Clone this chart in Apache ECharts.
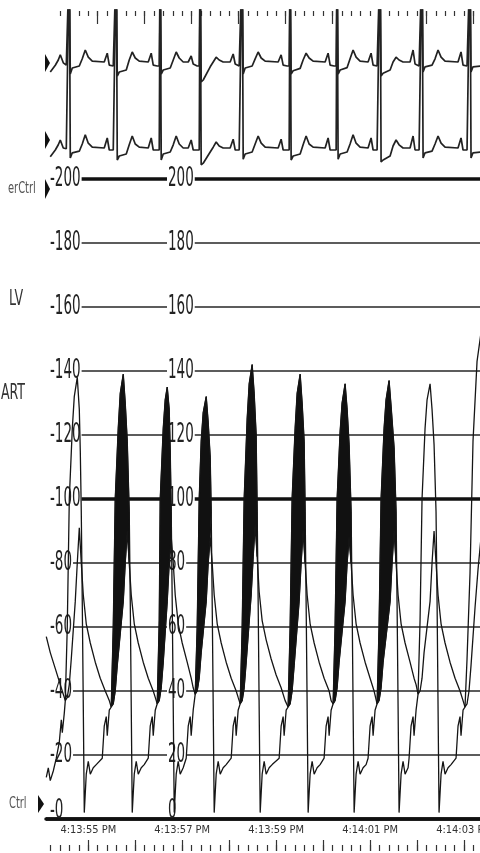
<!DOCTYPE html>
<html><head><meta charset="utf-8">
<script src="https://cdn.jsdelivr.net/npm/echarts@6/dist/echarts.min.js"></script>
<style>html,body{margin:0;padding:0;background:#fff}#c{width:480px;height:853px}</style>
</head><body><div id="c"></div>
<script>
const FONT = "'DejaVu Sans Condensed','Liberation Sans Narrow','Liberation Sans',sans-serif";

// time axis (seconds after 4:13:55 PM)
const timeLabelValues = [0, 2, 4, 6, 8];
const timeLabels = ['4:13:55 PM', '4:13:57 PM', '4:13:59 PM', '4:14:01 PM', '4:14:03 PM'];
// pressure scale (mmHg)
const pressureTicks = [0, 20, 40, 60, 80, 100, 120, 140, 160, 180, 200];

// LV pressure [s, mmHg]
const lvPressure = [
[-0.894,13],[-0.851,16],[-0.809,12],[-0.745,15],[-0.681,19],[-0.617,24],[-0.574,31],[-0.553,27],[-0.511,33],
[-0.489,37],[-0.447,60],[-0.404,100],[-0.340,122],[-0.298,132],[-0.234,138],[-0.191,128],[-0.170,115],[-0.149,96],[-0.128,68],[-0.106,35],[-0.085,2],
[-0.043,14],[0,18],[0.043,14],[0.106,16],[0.170,17],[0.298,19],[0.340,29],[0.383,32],[0.404,26],[0.447,34],
[0.489,35],[0.532,60],[0.574,100],[0.638,122],[0.681,133],[0.745,139],[0.787,130],[0.830,118],[0.872,96],[0.894,68],[0.915,35],[0.936,2],
[0.979,14],[1.021,18],[1.064,14],[1.128,16],[1.191,17],[1.277,19],[1.319,29],[1.362,32],[1.383,26],[1.426,34],
[1.468,36],[1.511,62],[1.532,100],[1.596,122],[1.638,131],[1.681,135],[1.723,128],[1.745,115],[1.766,96],[1.787,68],[1.809,35],[1.830,2],
[1.872,14],[1.915,18],[1.957,14],[2.021,16],[2.085,19],[2.128,29],[2.170,32],[2.191,26],[2.234,34],
[2.277,39],[2.319,60],[2.362,100],[2.404,118],[2.447,127],[2.511,132],[2.553,124],[2.596,113],[2.617,96],[2.638,68],[2.660,35],[2.681,2],
[2.723,14],[2.766,18],[2.809,14],[2.872,16],[2.936,17],[3.043,19],[3.085,29],[3.128,32],[3.149,26],[3.191,34],
[3.234,36],[3.277,60],[3.319,100],[3.383,125],[3.426,136],[3.489,142],[3.532,133],[3.574,120],[3.596,96],[3.617,68],[3.638,35],[3.660,2],
[3.702,14],[3.745,18],[3.787,14],[3.851,16],[3.915,17],[4.064,19],[4.106,29],[4.149,32],[4.170,26],[4.213,34],
[4.255,35],[4.298,60],[4.340,100],[4.404,122],[4.447,133],[4.511,139],[4.553,130],[4.596,118],[4.617,96],[4.638,68],[4.660,35],[4.681,2],
[4.723,14],[4.766,18],[4.809,14],[4.872,16],[4.936,17],[5.021,19],[5.064,29],[5.106,32],[5.128,26],[5.170,34],
[5.213,36],[5.255,60],[5.298,100],[5.362,121],[5.404,130],[5.468,136],[5.511,128],[5.553,117],[5.596,96],[5.617,68],[5.638,35],[5.660,2],
[5.702,14],[5.745,18],[5.787,14],[5.851,16],[5.915,17],[5.957,19],[6.000,29],[6.043,32],[6.064,26],[6.106,34],
[6.149,36],[6.191,60],[6.234,100],[6.298,122],[6.340,131],[6.404,137],[6.447,129],[6.511,116],[6.553,96],[6.574,68],[6.596,35],[6.617,2],
[6.660,14],[6.702,18],[6.745,14],[6.809,16],[6.830,19],[6.872,29],[6.915,32],[6.936,26],[6.979,34],
[7.021,39],[7.064,62],[7.106,100],[7.170,122],[7.213,131],[7.277,136],[7.319,128],[7.362,117],[7.404,96],[7.426,68],[7.447,35],[7.468,2],
[7.511,14],[7.553,18],[7.596,14],[7.660,16],[7.723,17],[7.830,19],[7.872,29],[7.915,32],[7.936,26],[7.979,34],
[8.021,35],[8.064,50],[8.128,77],[8.191,118],[8.277,143],[8.362,152]
];

// Arterial pressure [s, mmHg]
const artPressure = [
[-0.894,57],[-0.809,52],[-0.702,47],[-0.596,42],[-0.532,39],
[-0.489,37],[-0.447,38],[-0.404,42],[-0.362,50],[-0.277,68],[-0.234,80],[-0.191,91],[-0.149,80],[-0.106,70],[-0.043,61],[0.043,55],[0.149,49],[0.255,44],[0.362,40],[0.447,37],
[0.489,35],[0.532,36],[0.574,40],[0.617,48],[0.745,68],[0.787,80],[0.830,90],[0.872,80],[0.915,70],[0.979,61],[1.064,55],[1.170,49],[1.277,44],[1.383,40],[1.426,38],
[1.468,36],[1.511,37],[1.553,41],[1.596,49],[1.681,68],[1.723,80],[1.766,88],[1.809,80],[1.851,70],[1.915,61],[2.000,55],[2.106,49],[2.191,44],[2.234,41],
[2.277,39],[2.319,40],[2.362,44],[2.404,52],[2.511,68],[2.553,80],[2.596,88],[2.638,80],[2.681,70],[2.745,61],[2.830,55],[2.936,49],[3.043,44],[3.149,40],[3.191,38],
[3.234,36],[3.277,37],[3.319,41],[3.362,49],[3.468,70],[3.511,82],[3.553,92],[3.596,82],[3.638,71],[3.702,62],[3.787,56],[3.894,50],[4.000,45],[4.106,41],[4.191,37],
[4.255,35],[4.298,36],[4.340,40],[4.383,48],[4.489,68],[4.532,80],[4.574,90],[4.617,80],[4.660,70],[4.723,61],[4.809,55],[4.915,49],[5.021,44],[5.128,40],[5.170,37],
[5.213,36],[5.255,37],[5.298,41],[5.340,49],[5.468,68],[5.511,80],[5.553,88],[5.596,80],[5.638,70],[5.702,61],[5.787,55],[5.894,49],[6.000,44],[6.085,40],
[6.149,36],[6.191,37],[6.234,41],[6.277,49],[6.426,68],[6.468,80],[6.511,90],[6.553,80],[6.596,70],[6.660,61],[6.745,55],[6.851,49],[6.936,44],[6.979,42],
[7.021,39],[7.064,40],[7.106,44],[7.149,52],[7.277,68],[7.319,80],[7.362,90],[7.404,80],[7.447,70],[7.511,61],[7.596,55],[7.702,49],[7.809,44],[7.915,40],[7.979,37],
[8.021,35],[8.064,36],[8.106,40],[8.149,48],[8.234,66],[8.298,78],[8.362,88]
];

// ejection windows [start s, end s] where the LV-ART gradient is shaded
const fillWindows = [[0.489,0.872],[1.468,1.766],[2.277,2.617],[3.234,3.596],[4.255,4.617],[5.213,5.596],[6.149,6.553]];

// ECG (two leads, mV) sampled at shared times
const ecgTime = [
-0.809,-0.702,-0.638,-0.596,-0.532,-0.468,
-0.426,-0.404,-0.383,-0.340,-0.191,-0.128,-0.064,0,0.085,0.340,0.404,0.447,0.532,
0.574,0.596,0.617,0.660,0.809,0.872,0.936,1.000,1.085,1.277,1.340,1.383,1.468,
1.511,1.532,1.553,1.596,1.745,1.809,1.872,1.936,2.021,2.128,2.191,2.234,2.319,
2.362,2.383,2.404,2.447,2.596,2.660,2.723,2.787,2.872,3.021,3.085,3.128,3.213,
3.255,3.277,3.298,3.340,3.489,3.553,3.617,3.681,3.766,4.043,4.106,4.149,4.234,
4.277,4.298,4.319,4.362,4.511,4.574,4.638,4.702,4.787,5.043,5.106,5.149,5.234,
5.277,5.298,5.319,5.362,5.511,5.574,5.638,5.702,5.787,5.957,6.021,6.064,6.149,
6.191,6.213,6.234,6.277,6.426,6.489,6.553,6.617,6.702,6.851,6.915,6.957,7.043,
7.085,7.106,7.128,7.170,7.319,7.383,7.447,7.511,7.596,7.872,7.936,7.979,8.064,
8.106,8.128,8.149,8.191,8.362
];
const ecgLead1 = [
-0.25,-0.08,0.05,0.18,-0.02,-0.08,
-0.1,2.6,-0.3,-0.15,-0.1,0.08,0.3,0.12,0.02,0,0.22,-0.08,-0.1,
-0.1,2.6,-0.35,-0.25,-0.2,0.05,0.25,0.1,0.02,0,0.22,-0.08,-0.1,
-0.1,2.6,-0.3,-0.2,-0.15,0.05,0.25,0.1,0,0,0.15,-0.05,-0.1,
-0.1,2.6,-0.5,-0.45,-0.12,0,0.12,0.05,0,0,0.2,-0.05,-0.1,
-0.1,2.6,-0.3,-0.15,-0.1,0.08,0.25,0.1,0.02,0,0.18,-0.08,-0.1,
-0.1,2.6,-0.3,-0.22,-0.16,0.05,0.22,0.1,0.02,0,0.22,-0.08,-0.1,
-0.1,2.6,-0.3,-0.2,-0.14,0.08,0.3,0.12,0.02,0,0.22,-0.08,-0.1,
-0.1,2.6,-0.35,-0.28,-0.2,0,0.12,0.05,0,0,0.3,-0.05,-0.1,
-0.1,2.6,-0.25,-0.12,-0.08,0.08,0.3,0.12,0.02,0,0.25,-0.08,-0.1,
-0.1,2.6,-0.25,-0.12,-0.1
];
const ecgLead2 = [
-0.22,-0.05,0.08,0.2,0,-0.02,
-0.05,5,-0.25,-0.12,-0.08,0.1,0.33,0.12,0.02,0,0.25,-0.05,-0.05,
-0.05,5,-0.3,-0.2,-0.15,0.08,0.3,0.1,0.02,0,0.25,-0.05,-0.05,
-0.05,5,-0.3,-0.15,-0.1,0.08,0.3,0.1,0,0,0.2,-0.05,-0.05,
-0.05,5,-0.42,-0.38,-0.1,0.02,0.15,0.05,0,0,0.22,-0.05,-0.05,
-0.05,5,-0.28,-0.15,-0.1,0.1,0.3,0.12,0.02,0,0.22,-0.05,-0.05,
-0.05,5,-0.3,-0.2,-0.15,0.08,0.3,0.1,0.02,0,0.25,-0.05,-0.05,
-0.05,5,-0.28,-0.15,-0.1,0.1,0.33,0.12,0.02,0,0.25,-0.05,-0.05,
-0.05,5,-0.35,-0.3,-0.2,0.05,0.2,0.08,0,0,0.3,-0.05,-0.05,
-0.05,5,-0.25,-0.12,-0.08,0.1,0.3,0.12,0.02,0,0.25,-0.05,-0.05,
-0.05,5,-0.25,-0.12,-0.1
];

// paper time ticks (s)
const bottomLongTicks = [0,1,2,3,4,5,6,7,8];
const topLongTicks = [0.2,1.2,2.2,3.2,4.2,5.2,6.2,7.2,8.2];
const bottomShortTicks = [], topShortTicks = [];
for (let k = -4; k <= 41; k++) bottomShortTicks.push(Math.round(k * 2) / 10);
for (let k = -3; k <= 41; k++) topShortTicks.push(Math.round(k * 2) / 10);

const channelLabels = [
  { text: 'erCtrl', x: 8, y: 189, size: 11, color: '#555' },
  { text: 'LV', x: 9, y: 300, size: 14, color: '#333' },
  { text: 'ART', x: 1, y: 394, size: 14, color: '#333' },
  { text: 'Ctrl', x: 9, y: 804, size: 11, color: '#555' }
];

const X_MIN = -0.9, X_MAX = 8.34;
const MID_LABEL_OFFSET = 121;
const chart = echarts.init(document.getElementById('c'), null, { renderer: 'canvas' });

const baseX = (gi, extra) => Object.assign({
  type: 'value', gridIndex: gi, min: X_MIN, max: X_MAX,
  axisLine: { show: false }, axisTick: { show: false }, axisLabel: { show: false }, splitLine: { show: false }
}, extra || {});
const hiddenY = (gi, mn, mx) => ({ type: 'value', gridIndex: gi, min: mn, max: mx, show: false, splitLine: { show: false } });
const tickAxis = (gi, pos, inside, len, vals) => baseX(gi, {
  position: pos,
  axisTick: { show: true, inside: inside, length: len, customValues: vals, lineStyle: { color: '#333', width: 1.2 } }
});
const G = (o) => Object.assign({ left: 46, right: 0, outerBoundsMode: 'none', containLabel: false }, o);

const thinColors = pressureTicks.map(v => v % 100 === 0 ? 'rgba(0,0,0,0)' : '#5c5c5c');
const pMin = pressureTicks[0], pMax = pressureTicks[pressureTicks.length - 1];

const option = {
  animation: false,
  backgroundColor: '#fff',
  textStyle: { fontFamily: FONT },
  grid: [
    G({ top: 179, bottom: 34 }),
    G({ top: 10, height: 92 }),
    G({ top: 10, height: 160 }),
    G({ top: 1, height: 10 }),
    G({ top: 1, height: 10 }),
    G({ bottom: 2, height: 20 }),
    G({ bottom: 2, height: 20 })
  ],
  xAxis: [
    baseX(0, {
      position: 'bottom',
      axisLine: { show: true, onZero: false, lineStyle: { color: '#111', width: 3.5 } },
      axisLabel: {
        show: true, customValues: timeLabelValues, margin: 6, fontSize: 11, color: '#333', fontFamily: FONT,
        formatter: v => { const i = timeLabelValues.indexOf(Math.round(v)); return i >= 0 ? timeLabels[i] : ''; }
      }
    }),
    baseX(1), baseX(2),
    tickAxis(3, 'bottom', false, 13, topLongTicks),
    tickAxis(4, 'bottom', false, 5, topShortTicks),
    tickAxis(5, 'bottom', true, 11, bottomLongTicks),
    tickAxis(6, 'bottom', true, 6, bottomShortTicks)
  ],
  yAxis: [
    { type: 'value', gridIndex: 0, min: pMin, max: pMax, interval: 20, position: 'left', z: 1,
      axisLine: { show: false }, axisTick: { show: false }, axisLabel: { show: false },
      splitLine: { show: true, lineStyle: { color: thinColors, width: 1.8 } } },
    { type: 'value', gridIndex: 0, min: pMin, max: pMax, interval: 100, position: 'right', z: 0,
      axisLine: { show: false }, axisTick: { show: false }, axisLabel: { show: false },
      splitLine: { show: true, lineStyle: { color: '#111', width: 3.5 } } },
    hiddenY(1, -1.0, 1.3),
    hiddenY(2, -0.55, 3.45),
    hiddenY(3, 0, 1), hiddenY(4, 0, 1), hiddenY(5, 0, 1), hiddenY(6, 0, 1)
  ],
  series: [
    { // pressure scale labels, printed twice along the strip as on the recorder paper
      type: 'custom', name: 'scale', xAxisIndex: 0, yAxisIndex: 0, z: 2, silent: true,
      data: pressureTicks.map(v => [X_MIN, v]),
      encode: { x: 0, y: 1 },
      renderItem: (params, api) => {
        const v = api.value(1);
        const pt = api.coord([api.value(0), v]);
        const isMin = v === pMin;
        const mk = (x, text, padLeft) => ({
          type: 'text', x: x, y: pt[1] + (isMin ? 5 : 0), scaleY: 1.8,
          style: { text: text, fontSize: 15, fontFamily: FONT, fill: '#222',
            backgroundColor: isMin ? 'rgba(0,0,0,0)' : '#fff',
            padding: [0, 1, 0, padLeft], align: 'left', verticalAlign: isMin ? 'bottom' : 'middle' }
        });
        return { type: 'group', children: [mk(pt[0], '-' + v, 4), mk(pt[0] + MID_LABEL_OFFSET, String(v), 1)] };
      }
    },
    {
      type: 'custom', name: 'gradient', xAxisIndex: 0, yAxisIndex: 0, z: 3, silent: true,
      data: fillWindows,
      encode: { x: 0, y: 1 },
      renderItem: (params, api) => {
        const a = api.value(0) - 1e-6, b = api.value(1) + 1e-6;
        const top = lvPressure.filter(p => p[0] >= a && p[0] <= b).map(p => api.coord(p));
        const bot = artPressure.filter(p => p[0] >= a && p[0] <= b).reverse().map(p => api.coord(p));
        return { type: 'polygon', shape: { points: top.concat(bot) }, style: { fill: '#111', stroke: '#111', lineWidth: 1 } };
      }
    },
    { type: 'line', name: 'ART', xAxisIndex: 0, yAxisIndex: 0, z: 4, data: artPressure, showSymbol: false, clip: true,
      lineStyle: { color: '#151515', width: 1.3 } },
    { type: 'line', name: 'LV', xAxisIndex: 0, yAxisIndex: 0, z: 4, data: lvPressure, showSymbol: false, clip: true,
      lineStyle: { color: '#151515', width: 1.3 } },
    { type: 'line', name: 'ECG I', xAxisIndex: 1, yAxisIndex: 2, z: 4, showSymbol: false, clip: true,
      data: ecgTime.map((t, i) => [t, ecgLead1[i]]), lineStyle: { color: '#222', width: 1.7 } },
    { type: 'line', name: 'ECG II', xAxisIndex: 2, yAxisIndex: 3, z: 4, showSymbol: false, clip: true,
      data: ecgTime.map((t, i) => [t, ecgLead2[i]]), lineStyle: { color: '#222', width: 1.7 } }
  ],
  graphic: [
    { type: 'polygon', z: 20, shape: { points: [[45,54],[50,63],[45,72]] }, style: { fill: '#111' } },
    { type: 'polygon', z: 20, shape: { points: [[45,131],[50,140],[45,149]] }, style: { fill: '#111' } },
    { type: 'polygon', z: 20, shape: { points: [[45,179],[50,189],[45,199]] }, style: { fill: '#111' } },
    { type: 'polygon', z: 20, shape: { points: [[38,795],[44,804],[38,813]] }, style: { fill: '#111' } }
  ].concat(channelLabels.map(l => ({
    type: 'text', z: 20, x: l.x, y: l.y, scaleY: 1.5,
    style: { text: l.text, fontSize: l.size, fontFamily: FONT, fill: l.color, verticalAlign: 'middle', align: 'left' }
  })))
};
chart.setOption(option);
</script>
</body></html>
